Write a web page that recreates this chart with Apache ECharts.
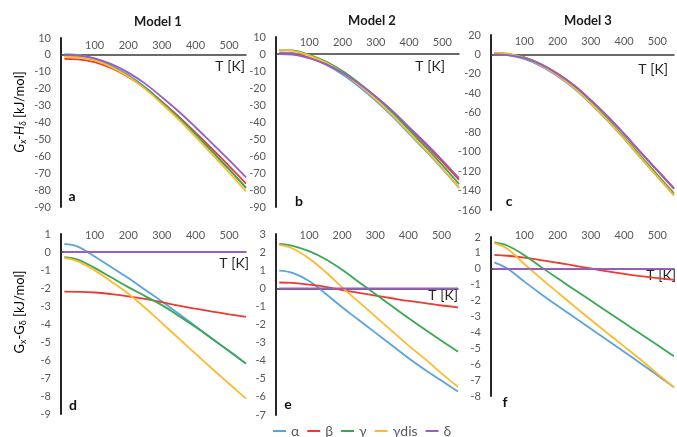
<!DOCTYPE html>
<html lang="en">
<head>
    <meta charset="UTF-8">
    <title>G - H and G - G of the Pu phases</title>
    <script src="https://cdn.jsdelivr.net/npm/echarts/dist/echarts.min.js"></script>
    <style>html,body{margin:0;padding:0;background:#fff;}</style>
</head>
<body>
    <div id="main" style="width: 677px;height:437px;"></div>
</body>

<script>
    // temperature grid (K)
    var T = [10, 50, 100, 150, 200, 250, 300, 350, 400, 450, 500, 550];
    var phases = ['α', 'β', 'γ', 'γdis', 'δ'];
    var colors = ['#5BA3DC', '#EE3B2F', '#3AA853', '#FDBA2C', '#9A5CC6'];
    var models = ['Model 1', 'Model 2', 'Model 3'];

    // Model 1, Gx - Hδ
    var h1_alpha = [0.4, 0, -2.2, -6.3, -11.9, -19.1, -27.7, -36.9, -46.9, -57.3, -67.8, -78.7];
    var h1_beta  = [-2.4, -2.6, -4.3, -7.9, -13, -19.6, -27.8, -36.5, -46, -55.8, -65.8, -76.1];
    var h1_gamma = [-0.6, -0.9, -2.9, -7, -12.5, -19.4, -27.9, -37, -46.9, -57.3, -67.8, -78.7];
    var h1_gdis  = [-1.2, -1.4, -3.2, -7.2, -12.8, -20.1, -28.9, -38.3, -48.5, -59, -69.6, -80.7];
    var h1_delta = [0, -0.3, -2, -5.5, -10.5, -17, -25, -33.5, -42.8, -52.5, -62.3, -72.5];
    // Model 2, Gx - Hδ
    var h2_alpha = [1, 0.6, -2.1, -6.3, -12.1, -19.3, -27.5, -36.7, -46.9, -57, -67.6, -78.7];
    var h2_beta  = [0.3, 0, -2.3, -5.9, -11.1, -17.8, -25.4, -34.1, -43.7, -53.3, -63.5, -74];
    var h2_gamma = [2.4, 2.1, -0.5, -4.4, -10, -17.2, -25.4, -34.5, -44.7, -54.8, -65.4, -76.5];
    var h2_gdis  = [2.4, 1.9, -0.9, -5.1, -11, -18.3, -26.6, -35.9, -46.2, -56.4, -67.2, -78.5];
    var h2_delta = [0, -0.3, -2.5, -6, -11, -17.5, -25, -33.5, -43, -52.5, -62.5, -73];
    // Model 3, Gx - Hδ
    var h3_alpha = [0.4, -0.6, -4.6, -12, -22.4, -35, -50.8, -68, -86.7, -106.5, -125.7, -145];
    var h3_beta  = [0.9, 0.2, -3.1, -9.9, -19.6, -31.8, -47, -63.7, -81.8, -101, -119.6, -138.2];
    var h3_gamma = [1.7, 0.9, -3, -10.3, -20.6, -33.3, -49, -66.2, -84.9, -104.6, -123.8, -143];
    var h3_gdis  = [1.6, 0.7, -3.5, -11, -21.5, -34.4, -50.2, -67.6, -86.4, -106.2, -125.6, -145];
    var h3_delta = [0, -0.6, -3.8, -10.4, -20, -32, -47, -63.5, -81.5, -100.5, -119, -137.5];

    // Model 1, Gx - Gδ
    var g1_alpha = [0.45, 0.3, -0.25, -0.85, -1.45, -2.1, -2.75, -3.43, -4.12, -4.82, -5.52, -6.2];
    var g1_beta  = [-2.2, -2.21, -2.25, -2.34, -2.46, -2.61, -2.79, -2.98, -3.15, -3.31, -3.46, -3.6];
    var g1_gamma = [-0.28, -0.42, -0.88, -1.42, -1.95, -2.45, -2.95, -3.55, -4.17, -4.83, -5.5, -6.2];
    var g1_gdis  = [-0.33, -0.52, -1.02, -1.65, -2.32, -3.1, -3.95, -4.8, -5.65, -6.5, -7.32, -8.15];
    var g1_delta = [0, 0, 0, 0, 0, 0, 0, 0, 0, 0, 0, 0];
    // Model 2, Gx - Gδ
    var g2_alpha = [0.98, 0.85, 0.4, -0.3, -1.05, -1.75, -2.45, -3.15, -3.85, -4.5, -5.1, -5.7];
    var g2_beta  = [0.32, 0.3, 0.2, 0.08, -0.1, -0.25, -0.4, -0.55, -0.7, -0.82, -0.95, -1.05];
    var g2_gamma = [2.45, 2.35, 2.05, 1.6, 1.02, 0.35, -0.32, -0.98, -1.64, -2.28, -2.9, -3.5];
    var g2_gdis  = [2.4, 2.2, 1.65, 0.9, 0.05, -0.75, -1.55, -2.35, -3.15, -3.9, -4.7, -5.45];
    var g2_delta = [0, 0, 0, 0, 0, 0, 0, 0, 0, 0, 0, 0];
    // Model 3, Gx - Gδ
    var g3_alpha = [0.4, 0, -0.8, -1.58, -2.33, -3.05, -3.77, -4.5, -5.22, -5.95, -6.7, -7.45];
    var g3_beta  = [0.88, 0.82, 0.7, 0.55, 0.38, 0.2, 0.02, -0.16, -0.32, -0.46, -0.59, -0.7];
    var g3_gamma = [1.66, 1.45, 0.85, 0.12, -0.6, -1.3, -2, -2.7, -3.4, -4.1, -4.8, -5.5];
    var g3_gdis  = [1.62, 1.25, 0.3, -0.6, -1.48, -2.35, -3.2, -4.05, -4.88, -5.72, -6.6, -7.45];
    var g3_delta = [0, 0, 0, 0, 0, 0, 0, 0, 0, 0, 0, 0];

    // y axis ranges [min, max, interval]
    var yRanges = [[-90, 10, 10], [-90, 10, 10], [-160, 20, 20], [-9, 1, 1], [-7, 3, 1], [-8, 2, 1]];
    var letters = ['a', 'b', 'c', 'd', 'e', 'f'];

    var panelData = [
        [h1_alpha, h1_beta, h1_gamma, h1_gdis, h1_delta],
        [h2_alpha, h2_beta, h2_gamma, h2_gdis, h2_delta],
        [h3_alpha, h3_beta, h3_gamma, h3_gdis, h3_delta],
        [g1_alpha, g1_beta, g1_gamma, g1_gdis, g1_delta],
        [g2_alpha, g2_beta, g2_gamma, g2_gdis, g2_delta],
        [g3_alpha, g3_beta, g3_gamma, g3_gdis, g3_delta]
    ];

    // layout: grid box, x-label offset, "T [K]" gap/padding, letter position
    var layout = [
        {left: 61,  top: 38,  width: 185, height: 169, lblOff: -12.5, nGap: -1,  nPad: 5, lx: 72,  ly: 196},
        {left: 276, top: 37,  width: 183, height: 170, lblOff: -11,   nGap: -14, nPad: 5, lx: 299, ly: 201},
        {left: 491, top: 35,  width: 183, height: 175, lblOff: -12,   nGap: -6,  nPad: 8, lx: 509, ly: 201},
        {left: 61,  top: 234, width: 185, height: 180, lblOff: -6.5,  nGap: 3,   nPad: 4, lx: 73,  ly: 405},
        {left: 276, top: 234, width: 182, height: 181, lblOff: -6.5,  nGap: 0,   nPad: 0, lx: 288, ly: 404},
        {left: 491, top: 237, width: 183, height: 159, lblOff: -3.5,  nGap: 2,   nPad: 0, lx: 505, ly: 402}
    ];

    var labelColor = '#595959';
    var fontFam = 'Lato, "Open Sans", sans-serif';

    var grids = [], xAxes = [], yAxes = [], series = [], graphics = [];

    layout.forEach(function (L, p) {
        grids.push({left: L.left, top: L.top, width: L.width, height: L.height, outerBoundsMode: 'none'});
        // tick labels along the top of the plot
        xAxes.push({
            type: 'value', gridIndex: p, position: 'top', offset: L.lblOff,
            min: 0, max: 550, interval: 100,
            axisLine: {show: false, onZero: false},
            axisTick: {show: false}, splitLine: {show: false},
            axisLabel: {
                color: labelColor, fontSize: 11, fontFamily: fontFam, margin: 0,
                showMinLabel: false, showMaxLabel: false,
                formatter: function (v) { return v === 0 || v > 500 ? '' : v; }
            }
        });
        // the T axis line itself, sitting on zero
        xAxes.push({
            type: 'value', gridIndex: p, position: 'bottom',
            min: 0, max: 550,
            axisLine: {show: true, onZero: true, lineStyle: {color: '#3a3a3a', width: 1.5}},
            axisTick: {show: false}, splitLine: {show: false}, axisLabel: {show: false},
            name: 'T [K]', nameLocation: 'end', nameGap: L.nGap,
            nameTextStyle: {
                color: '#262626', fontSize: 14, fontFamily: fontFam,
                align: 'right', verticalAlign: 'top', padding: [L.nPad, 0, 0, 0]
            }
        });
        yAxes.push({
            type: 'value', gridIndex: p,
            min: yRanges[p][0], max: yRanges[p][1], interval: yRanges[p][2],
            axisLine: {show: true, onZero: false, lineStyle: {color: '#262626', width: 2}},
            axisTick: {show: false}, splitLine: {show: false},
            axisLabel: {color: labelColor, fontSize: 11, fontFamily: fontFam, margin: 10}
        });
        panelData[p].forEach(function (arr, k) {
            series.push({
                type: 'line', name: phases[k],
                xAxisIndex: p * 2, yAxisIndex: p,
                data: T.map(function (t, i) { return [t, arr[i]]; }),
                smooth: 0.4, showSymbol: false, symbol: 'none',
                lineStyle: {width: 1.8, color: colors[k]},
                itemStyle: {color: colors[k]}
            });
        });
        graphics.push({
            type: 'text', x: L.lx, y: L.ly,
            style: {text: letters[p], font: 'bold 14px ' + fontFam, fill: '#111',
                    textAlign: 'center', textVerticalAlign: 'middle'}
        });
    });

    var richName = {
        i: {fontSize: 13, fontStyle: 'italic', fontFamily: fontFam, color: '#262626'},
        u: {fontSize: 13, fontFamily: fontFam, color: '#262626'},
        s: {fontSize: 9, fontFamily: fontFam, color: '#262626', verticalAlign: 'bottom', padding: [6, 0, 0, 0]},
        si: {fontSize: 9, fontStyle: 'italic', fontFamily: fontFam, color: '#262626', verticalAlign: 'bottom', padding: [6, 0, 0, 0]}
    };
    graphics.push({
        type: 'text', x: 20, y: 112, rotation: Math.PI / 2,
        style: {text: '{i|G}{si|x}{i|-H}{si|δ}{u| [kJ/mol]}', rich: richName,
                textAlign: 'center', textVerticalAlign: 'middle'}
    });
    graphics.push({
        type: 'text', x: 20, y: 312, rotation: Math.PI / 2,
        style: {text: '{u|G}{s|x}{u|-G}{s|δ}{u| [kJ/mol]}', rich: richName,
                textAlign: 'center', textVerticalAlign: 'middle'}
    });

    var option = {
        backgroundColor: '#fff',
        animation: false,
        title: [
            {text: models[0], left: 153, top: 10, textAlign: 'center'},
            {text: models[1], left: 367, top: 9, textAlign: 'center'},
            {text: models[2], left: 583, top: 9, textAlign: 'center'}
        ].map(function (t) {
            t.textStyle = {fontSize: 13, fontWeight: 'bold', color: '#1a1a1a', fontFamily: fontFam};
            return t;
        }),
        legend: {
            data: phases, left: 273, top: 424, padding: 0,
            icon: 'rect', itemWidth: 13, itemHeight: 2, itemGap: 8,
            textStyle: {color: labelColor, fontSize: 14, fontFamily: fontFam}
        },
        grid: grids,
        xAxis: xAxes,
        yAxis: yAxes,
        series: series,
        graphic: graphics
    };

    var myChart = echarts.init(document.getElementById('main'));
    myChart.setOption(option);
</script>
</html>
